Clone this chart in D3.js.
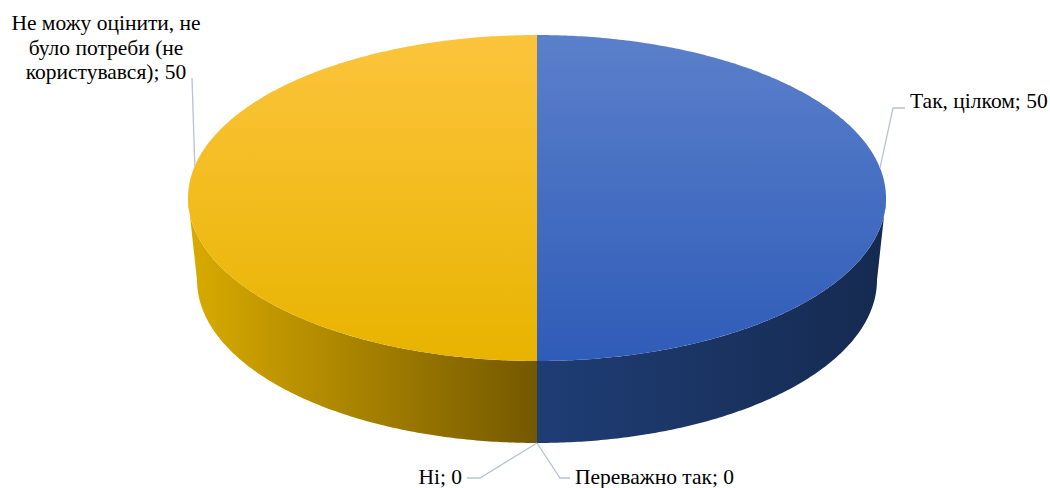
<!DOCTYPE html>
<meta charset="utf-8">
<head>
    <script src="https://d3js.org/d3.v7.min.js"></script>
    <style>
        body { margin: 0; background: #fff; }
    </style>
</head>
<body>
<div id="my_dataviz"></div>

<script>

    // data
    var categories = ["Так, цілком", "Переважно так", "Ні", "Не можу оцінити, не було потреби (не користувався)"];
    var values = [50, 0, 0, 50];
    var labelLines = [
        ["Так, цілком; 50"],
        ["Переважно так; 0"],
        ["Ні; 0"],
        ["Не можу оцінити, не", "було потреби (не", "користувався); 50"]
    ];

    // palette: top face gradient (top -> bottom), side gradient (left -> right)
    var topColors = [["#5b80cb", "#2f5cb8"], ["#5b80cb", "#2f5cb8"], ["#fcc43c", "#e8b400"], ["#fcc43c", "#e8b400"]];
    var sideColors = [["#1f3d75", "#152a50"], ["#1f3d75", "#152a50"], ["#d9ab00", "#745800"], ["#d9ab00", "#745800"]];

    var width = 1050, height = 488;
    var cx = 537, cy = 198, rx = 349, ry = 163, depth = 82, rxBottom = 340, ryBottom = 163;

    var svg = d3.select("#my_dataviz")
        .append("svg")
        .attr("width", width)
        .attr("height", height);

    var defs = svg.append("defs");

    var pie = d3.pie().sort(null).startAngle(0).endAngle(2 * Math.PI);
    var arcs = pie(values);

    // angle measured clockwise from 12 o'clock
    function topPt(a) { return [cx + rx * Math.sin(a), cy - ry * Math.cos(a)]; }
    function botPt(a) { return [cx + rxBottom * Math.sin(a), cy + depth - ryBottom * Math.cos(a)]; }

    function arcPoints(f, a0, a1) {
        var n = Math.max(2, Math.ceil(Math.abs(a1 - a0) / 0.01));
        return d3.range(n + 1).map(function(i) { return f(a0 + (a1 - a0) * i / n); });
    }

    var line = d3.line();

    // side walls (front half only, pi/2 .. 3pi/2)
    arcs.forEach(function(d, i) {
        var a0 = Math.max(d.startAngle, Math.PI / 2), a1 = Math.min(d.endAngle, 3 * Math.PI / 2);
        if (a1 <= a0) return;
        var gid = "side" + i;
        var xs = [topPt(a0)[0], topPt(a1)[0]];
        var g = defs.append("linearGradient").attr("id", gid)
            .attr("gradientUnits", "userSpaceOnUse")
            .attr("x1", d3.min(xs)).attr("x2", d3.max(xs)).attr("y1", 0).attr("y2", 0);
        g.append("stop").attr("offset", "0%").attr("stop-color", sideColors[i][0]);
        g.append("stop").attr("offset", "100%").attr("stop-color", sideColors[i][1]);
        var pts = arcPoints(topPt, a0, a1).concat(arcPoints(botPt, a1, a0));
        svg.append("path")
            .attr("d", line(pts) + "Z")
            .attr("fill", "url(#" + gid + ")");
    });

    // top faces
    arcs.forEach(function(d, i) {
        if (d.endAngle - d.startAngle <= 0) return;
        var gid = "top" + i;
        var g = defs.append("linearGradient").attr("id", gid)
            .attr("gradientUnits", "userSpaceOnUse")
            .attr("x1", 0).attr("x2", 0).attr("y1", cy - ry).attr("y2", cy + ry);
        g.append("stop").attr("offset", "0%").attr("stop-color", topColors[i][0]);
        g.append("stop").attr("offset", "100%").attr("stop-color", topColors[i][1]);
        var pts = [[cx, cy]].concat(arcPoints(topPt, d.startAngle, d.endAngle));
        svg.append("path")
            .attr("d", line(pts) + "Z")
            .attr("fill", "url(#" + gid + ")");
    });

    // labels with leader lines
    var bottomPt = botPt(Math.PI);
    var labelLayout = [
        {from: topPt(Math.PI * 0.441), elbow: [893, 108], end: [905, 108], tx: 910, ty: 108, anchor: "start"},
        {from: bottomPt, elbow: [560, 478], end: [570, 478], tx: 575, ty: 484, anchor: "start"},
        {from: bottomPt, elbow: [480, 478], end: [467, 478], tx: 462, ty: 484, anchor: "end"},
        {from: topPt(Math.PI * 1.563), elbow: [192, 78], end: [192, 78], tx: 106, ty: 30, anchor: "middle"}
    ];

    labelLayout.forEach(function(l, i) {
        svg.append("path")
            .attr("d", line([l.from, l.elbow, l.end]))
            .attr("fill", "none")
            .attr("stroke", "#b7c3d3")
            .attr("stroke-width", 1.3);
        var t = svg.append("text")
            .attr("x", l.tx)
            .attr("y", l.ty)
            .attr("text-anchor", l.anchor)
            .style("font-family", "'Liberation Serif'")
            .attr("font-size", 21.5)
            .attr("fill", "#000");
        labelLines[i].forEach(function(s, j) {
            t.append("tspan").attr("x", l.tx).attr("dy", j === 0 ? 0 : 24.7).text(s);
        });
    });

</script>
</body>
